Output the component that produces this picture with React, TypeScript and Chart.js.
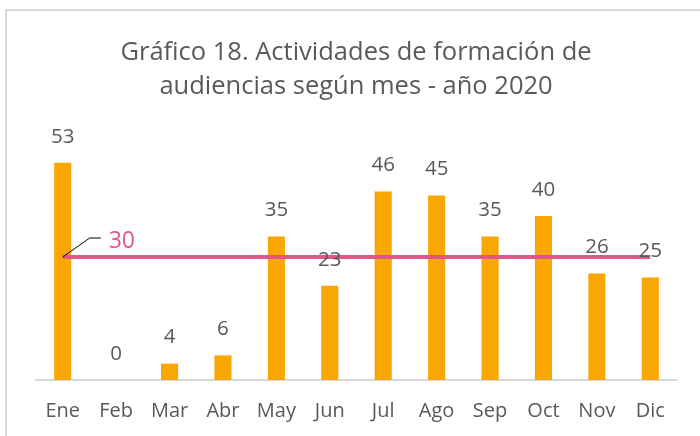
import React, { useEffect, useRef } from "react";
import { Chart, registerables } from "chart.js";

Chart.register(...registerables);

const months = ["Ene", "Feb", "Mar", "Abr", "May", "Jun", "Jul", "Ago", "Sep", "Oct", "Nov", "Dic"];
const activities = [53, 0, 4, 6, 35, 23, 46, 45, 35, 40, 26, 25];
const referenceLine = [30, 30, 30, 30, 30, 30, 30, 30, 30, 30, 30, 30];
const referenceLabel = "30";
const titleLines = ["Gráfico 18. Actividades de formación de", "audiencias según mes - año 2020"];

const FONT = "'Open Sans', 'Noto Sans', sans-serif";
const GREY = "#595959";
const ORANGE = "#F9A600";
const PINK = "#E0568A";

const decorPlugin = {
  id: "decor",
  beforeDraw(chart: any) {
    const ctx = chart.ctx;
    ctx.save();
    ctx.fillStyle = "#ffffff";
    ctx.fillRect(0, 0, chart.width, chart.height);
    ctx.strokeStyle = "#d9d9d9";
    ctx.lineWidth = 2;
    ctx.strokeRect(6, 10, chart.width + 10, chart.height + 10);
    ctx.fillStyle = GREY;
    ctx.font = `25.5px ${FONT}`;
    ctx.textAlign = "center";
    ctx.textBaseline = "alphabetic";
    ctx.fillText(titleLines[0], 356, 60);
    ctx.fillText(titleLines[1], 356, 94);
    ctx.restore();
  },
  afterDraw(chart: any) {
    const ctx = chart.ctx;
    ctx.save();
    const barMeta = chart.getDatasetMeta(1);
    ctx.fillStyle = GREY;
    ctx.font = `20.5px ${FONT}`;
    ctx.textAlign = "center";
    ctx.textBaseline = "middle";
    barMeta.data.forEach((el: any, i: number) => {
      ctx.fillText(String(activities[i]), el.x, el.y - 26);
    });
    const lineMeta = chart.getDatasetMeta(0);
    const p = lineMeta.data[0];
    ctx.strokeStyle = "#000000";
    ctx.lineWidth = 1;
    ctx.beginPath();
    ctx.moveTo(p.x, p.y);
    ctx.lineTo(p.x + 27, p.y - 19);
    ctx.lineTo(p.x + 38, p.y - 19);
    ctx.stroke();
    ctx.fillStyle = PINK;
    ctx.font = `23px ${FONT}`;
    ctx.textAlign = "left";
    ctx.textBaseline = "middle";
    ctx.fillText(referenceLabel, p.x + 46, p.y - 16);
    ctx.restore();
  },
};

export default function App() {
  const ref = useRef<HTMLCanvasElement>(null);
  useEffect(() => {
    if (!ref.current) return;
    const chart = new Chart(ref.current, {
      type: "bar",
      data: {
        labels: months,
        datasets: [
          {
            type: "line",
            data: referenceLine,
            borderColor: PINK,
            borderWidth: 4,
            pointRadius: 0,
            fill: false,
            order: 1,
          } as any,
          {
            type: "bar",
            data: activities,
            backgroundColor: ORANGE,
            barPercentage: 0.32,
            categoryPercentage: 1,
            order: 2,
          },
        ],
      },
      options: {
        animation: false,
        responsive: false,
        maintainAspectRatio: false,
        layout: { padding: { left: 36, right: 23, top: 134, bottom: 13 } },
        plugins: { legend: { display: false }, tooltip: { enabled: false }, title: { display: false } },
        scales: {
          y: { display: false, min: 0, max: 60 },
          x: {
            grid: { display: false, drawTicks: false },
            border: { display: true, color: "#d9d9d9", width: 2 },
            ticks: { color: GREY, font: { family: FONT, size: 20, lineHeight: 1.2 }, padding: 19 },
            afterFit: (scale: any) => {
              scale.height = 43;
            },
          },
        },
      },
      plugins: [decorPlugin],
    });
    return () => chart.destroy();
  }, []);
  return (
    <div style={{ position: "fixed", left: 0, top: 0, width: 700, height: 436 }}>
      <canvas ref={ref} width={700} height={436} style={{ width: 700, height: 436, display: "block" }} />
    </div>
  );
}
